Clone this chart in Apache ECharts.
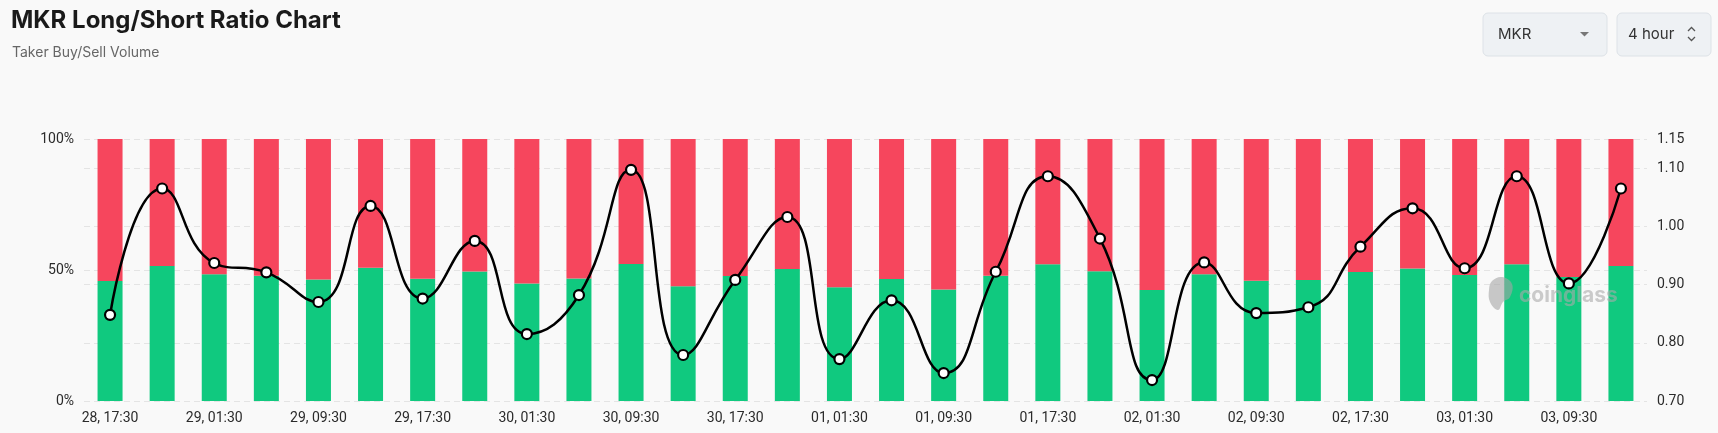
<!DOCTYPE html>
<html>
<head>
<meta charset="utf-8">
<script src="https://cdn.jsdelivr.net/npm/echarts@6/dist/echarts.min.js"></script>
<style>
html,body{margin:0;padding:0;background:#f9f9f9;}
#chart{width:1718px;height:433px;}
</style>
</head>
<body>
<div id="chart"></div>
<script>
const categories = [
  "28, 17:30","28, 21:30","29, 01:30","29, 05:30","29, 09:30","29, 13:30",
  "29, 17:30","29, 21:30","30, 01:30","30, 05:30","30, 09:30","30, 13:30",
  "30, 17:30","30, 21:30","01, 01:30","01, 05:30","01, 09:30","01, 13:30",
  "01, 17:30","01, 21:30","02, 01:30","02, 05:30","02, 09:30","02, 13:30",
  "02, 17:30","02, 21:30","03, 01:30","03, 05:30","03, 09:30","03, 13:30"
];
const longPct = [45.8, 51.5, 48.4, 47.8, 46.4, 50.9, 46.7, 49.4, 44.8, 46.8,
                 52.3, 43.8, 47.7, 50.4, 43.4, 46.6, 42.6, 47.8, 52.2, 49.5,
                 42.4, 48.4, 45.9, 46.2, 49.2, 50.6, 48.1, 52.2, 47.3, 51.5];
const shortPct = [54.2, 48.5, 51.6, 52.2, 53.6, 49.1, 53.3, 50.6, 55.2, 53.2,
                  47.7, 56.2, 52.3, 49.6, 56.6, 53.4, 57.4, 52.2, 47.8, 50.5,
                  57.6, 51.6, 54.1, 53.8, 50.8, 49.4, 51.9, 47.8, 52.7, 48.5];
const ratio = [0.848, 1.065, 0.937, 0.921, 0.870, 1.035, 0.876, 0.975, 0.815, 0.882,
               1.097, 0.779, 0.908, 1.016, 0.772, 0.873, 0.748, 0.922, 1.086, 0.979,
               0.736, 0.938, 0.851, 0.861, 0.965, 1.031, 0.928, 1.086, 0.902, 1.065];
const leftTicks = [0, 50, 100];
const rightTicks = [0.70, 0.80, 0.90, 1.00, 1.10, 1.15];

const chart = echarts.init(document.getElementById('chart'), null, {renderer: 'canvas'});
const axisFont = {color: '#2b2b2b', fontSize: 14, fontFamily: 'Roboto'};
const splitDash = {show: true, lineStyle: {color: '#e4e4e4', type: [6, 4], width: 1}};

chart.setOption({
  backgroundColor: '#f9f9f9',
  animation: false,
  grid: {left: 84, right: 71, top: 139, bottom: 32},
  xAxis: {
    type: 'category',
    data: categories,
    axisLine: {show: false},
    axisTick: {show: false},
    axisLabel: Object.assign({interval: 1, margin: 10}, axisFont),
    splitLine: {show: false}
  },
  yAxis: [
    {
      type: 'value', min: leftTicks[0], max: leftTicks[2], interval: 50,
      axisLine: {show: false}, axisTick: {show: false},
      axisLabel: Object.assign({formatter: '{value}%', margin: 10}, axisFont),
      splitLine: splitDash
    },
    {
      type: 'value', min: rightTicks[0], max: rightTicks[5], interval: 0.1,
      position: 'right',
      axisLine: {show: false}, axisTick: {show: false},
      axisLabel: Object.assign({formatter: v => v.toFixed(2), margin: 10}, axisFont),
      splitLine: splitDash
    }
  ],
  series: [
    {
      name: 'Long', type: 'bar', stack: 'ls', data: longPct, barWidth: 25,
      itemStyle: {color: '#10c97f'}, yAxisIndex: 0
    },
    {
      name: 'Short', type: 'bar', stack: 'ls', data: shortPct, barWidth: 25,
      itemStyle: {color: '#f6465d'}, yAxisIndex: 0
    },
    {
      name: 'Ratio', type: 'line', data: ratio, yAxisIndex: 1, smooth: 0.5,
      symbol: 'circle', symbolSize: 10, z: 10,
      lineStyle: {color: '#000', width: 2.5},
      itemStyle: {color: '#fff', borderColor: '#000', borderWidth: 2.2}
    }
  ],
  graphic: [
    {type: 'text', x: 11, y: 21, z: 100,
     style: {text: 'MKR Long/Short Ratio Chart', font: '700 24px Inter', fill: '#1a1a1a', verticalAlign: 'middle'}},
    {type: 'text', x: 12, y: 53, z: 100,
     style: {text: 'Taker Buy/Sell Volume', font: '400 14px Inter', fill: '#666', verticalAlign: 'middle'}},
    {type: 'rect', shape: {x: 1483, y: 13, width: 124, height: 43, r: 5}, z: 100,
     style: {fill: '#eef1f4', stroke: '#dde2e7', lineWidth: 1}},
    {type: 'text', x: 1498, y: 34, z: 101,
     style: {text: 'MKR', font: '400 15px Inter', fill: '#333', verticalAlign: 'middle'}},
    {type: 'polygon', shape: {points: [[1580, 32], [1589, 32], [1584.5, 36.5]]}, z: 101,
     style: {fill: '#777'}},
    {type: 'rect', shape: {x: 1617, y: 13, width: 94, height: 43, r: 5}, z: 100,
     style: {fill: '#eef1f4', stroke: '#dde2e7', lineWidth: 1}},
    {type: 'text', x: 1628, y: 34, z: 101,
     style: {text: '4 hour', font: '400 15px Inter', fill: '#333', verticalAlign: 'middle'}},
    {type: 'polyline', shape: {points: [[1688, 31], [1691.5, 27.5], [1695, 31]]}, z: 101,
     style: {stroke: '#555', lineWidth: 1.3, fill: null}},
    {type: 'polyline', shape: {points: [[1688, 37], [1691.5, 40.5], [1695, 37]]}, z: 101,
     style: {stroke: '#555', lineWidth: 1.3, fill: null}},
    {type: 'polygon', z: 50,
     shape: {smooth: 0.4, points: [[1492, 281], [1502, 277], [1512, 284], [1510, 297], [1503, 302], [1498, 310], [1490, 302], [1489, 290]]},
     style: {fill: 'rgba(165,165,165,0.6)'}},
    {type: 'text', x: 1519, y: 296, z: 50,
     style: {text: 'coinglass', font: '700 21px Inter', fill: 'rgba(170,170,170,0.6)', verticalAlign: 'middle'}}
  ]
});
</script>
</body>
</html>
